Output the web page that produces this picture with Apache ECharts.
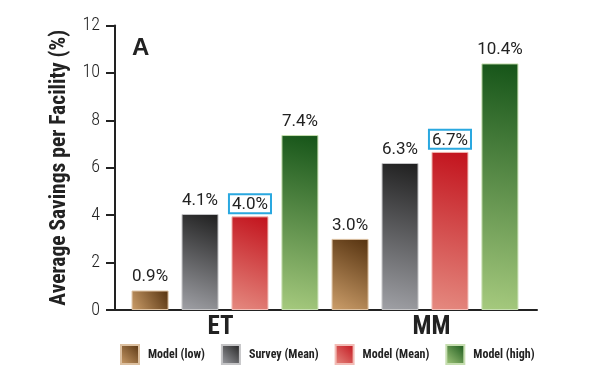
<!DOCTYPE html>
<html>
<head>
<meta charset="utf-8">
<script src="https://cdn.jsdelivr.net/npm/echarts@6/dist/echarts.min.js"></script>
<style>html,body{margin:0;padding:0;background:#fff}#c{width:600px;height:386px}</style>
</head>
<body>
<div id="c"></div>
<script>
const categories = ['ET', 'MM'];
const seriesNames = ['Model (low)', 'Survey (Mean)', 'Model (Mean)', 'Model (high)'];
const modelLow = [0.82, 3.0];
const surveyMean = [4.05, 6.2];
const modelMean = [3.95, 6.67];
const modelHigh = [7.38, 10.4];
const modelLowLabels = ['0.9%', '3.0%'];
const surveyMeanLabels = ['4.1%', '6.3%'];
const modelMeanLabels = ['4.0%', '6.7%'];
const modelHighLabels = ['7.4%', '10.4%'];
const yTicks = [0, 2, 4, 6, 8, 10, 12];

const cond = '"Roboto Condensed", "Open Sans Condensed", sans-serif';
const reg = 'Roboto, "Liberation Sans", sans-serif';
function grad(dark, light) {
  return new echarts.graphic.LinearGradient(1, 0, 0, 1, [
    { offset: 0, color: dark }, { offset: 1, color: light }
  ]);
}
const styles = [
  { dark: '#55320f', light: '#cc9e6a', border: '#dcc0a0' },
  { dark: '#1f1f1f', light: '#a0a1a6', border: '#c4c4c6' },
  { dark: '#c2121c', light: '#e58a80', border: '#f2bcb6' },
  { dark: '#155418', light: '#a6ca7e', border: '#c6deb0' }
];
const datas = [modelLow, surveyMean, modelMean, modelHigh];
const labels = [modelLowLabels, surveyMeanLabels, modelMeanLabels, modelHighLabels];

const chart = echarts.init(document.getElementById('c'), null, { renderer: 'canvas' });
const series = datas.map((d, i) => {
  const boxed = i === 2;
  return {
    name: seriesNames[i],
    type: 'bar',
    xAxisIndex: 1,
    yAxisIndex: 1,
    data: d,
    barWidth: 37,
    barGap: '35%',
    itemStyle: { color: grad(styles[i].dark, styles[i].light), borderColor: styles[i].border, borderWidth: 1 },
    label: {
      show: true,
      position: 'top',
      distance: boxed ? 3 : 5,
      formatter: p => labels[i][p.dataIndex],
      fontFamily: reg,
      fontSize: 17,
      color: '#222',
      borderColor: boxed ? '#2aa8e0' : 'transparent',
      borderWidth: boxed ? 2 : 0,
      padding: boxed ? [2, 3, 0, 3] : 0
    }
  };
});

chart.setOption({
  animation: false,
  backgroundColor: '#fff',
  title: {
    text: 'A', left: 132, top: 36, padding: 0,
    textStyle: { fontFamily: '"Liberation Sans", Arial, sans-serif', fontWeight: 'bold', fontSize: 24, color: '#222' }
  },
  legend: {
    left: 120, top: 344, width: 470, padding: 0,
    itemWidth: 18, itemHeight: 19, itemGap: 16,
    icon: 'rect',
    data: seriesNames,
    textStyle: { fontFamily: cond, fontWeight: 'bold', fontSize: 12, color: '#222', padding: [0, 0, 0, 4] }
  },
  grid: [
    { left: 115, right: 63, top: 25.5, bottom: 76, outerBoundsMode: 'none' },
    { left: 125, width: 400, top: 25.5, bottom: 76, outerBoundsMode: 'none' }
  ],
  xAxis: [
    {
      type: 'category', gridIndex: 0, data: categories,
      axisLine: { lineStyle: { color: '#222', width: 2 } },
      axisTick: { show: false },
      axisLabel: { fontFamily: cond, fontWeight: 'bold', fontSize: 25, color: '#222', margin: 5 }
    },
    {
      type: 'category', gridIndex: 1, data: categories,
      show: false
    }
  ],
  yAxis: [
    {
      type: 'value', gridIndex: 0, min: 0, max: 12, interval: 2,
      name: 'Average Savings per Facility (%)',
      nameLocation: 'middle', nameGap: 44,
      nameTextStyle: { fontFamily: cond, fontWeight: 'bold', fontSize: 21.5, color: '#222' },
      axisLine: { show: true, lineStyle: { color: '#222', width: 2 } },
      axisTick: { show: true, length: 9, lineStyle: { color: '#222', width: 2 } },
      axisLabel: { fontFamily: cond, fontWeight: 300, fontSize: 18, color: '#222', margin: 15,
        formatter: v => yTicks.includes(v) ? String(v) : '' },
      splitLine: { show: false }
    },
    { type: 'value', gridIndex: 1, min: 0, max: 12, interval: 2, show: false, splitLine: { show: false } }
  ],
  series: series
});
</script>
</body>
</html>
